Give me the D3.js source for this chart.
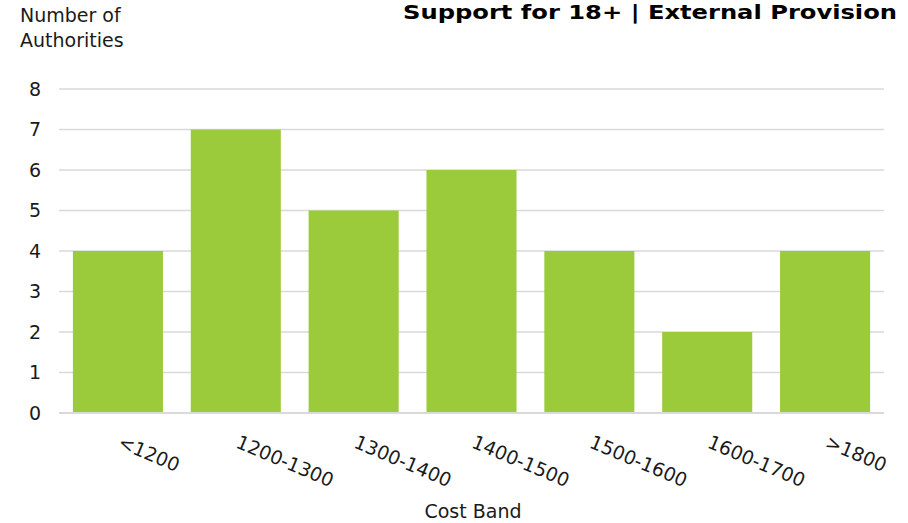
<!DOCTYPE html>
<html><head><meta charset="utf-8">
<script src="https://cdn.jsdelivr.net/npm/d3@7"></script>
<style>body{margin:0;background:#fff}svg{display:block;font-family:"DejaVu Sans",Verdana,sans-serif}</style>
</head><body><svg id="c" width="908" height="523"></svg>
<script>
const categories = ["<1200","1200-1300","1300-1400","1400-1500","1500-1600","1600-1700",">1800"];
const values = [4,7,5,6,4,2,4];
const yTicks = [0,1,2,3,4,5,6,7,8];
const title = "Support for 18+ | External Provision";
const yTitle = ["Number of","Authorities"];
const xTitle = "Cost Band";

const svg = d3.select("#c");
const L=59, R=884, T=89, B=413;
const FS=19;
const x = d3.scaleBand().domain(categories).range([L,R]).paddingInner(0.236).paddingOuter(0.118);
const y = d3.scaleLinear().domain([0,8]).range([B,T]);

// grid
svg.append("g").selectAll("line").data(yTicks).join("line")
  .attr("x1",L).attr("x2",R).attr("y1",d=>y(d)).attr("y2",d=>y(d))
  .attr("stroke","#d9d9d9").attr("stroke-width",1.5);
// y labels
svg.append("g").selectAll("text").data(yTicks).join("text")
  .attr("x",41).attr("y",d=>y(d)).attr("dy","0.36em").attr("text-anchor","end")
  .attr("font-size",FS).attr("fill","#1a1a1a").text(d=>d);
// bars
svg.append("g").selectAll("rect").data(values).join("rect")
  .attr("x",(d,i)=>x(categories[i])).attr("width",x.bandwidth())
  .attr("y",d=>y(d)).attr("height",d=>B-y(d)).attr("fill","#9bcb3b");
// baseline
svg.append("line").attr("x1",L).attr("x2",R).attr("y1",B).attr("y2",B).attr("stroke","#d9d9d9").attr("stroke-width",2);
// x labels
svg.append("g").selectAll("text").data(categories).join("text")
  .attr("transform",d=>`translate(${x(d)+x.bandwidth()/2-1},${447}) rotate(23)`)
  .attr("font-size",FS).attr("fill","#1a1a1a").text(d=>d);
// titles
svg.append("text").attr("x",897).attr("y",19).attr("text-anchor","end")
  .attr("font-size",19).attr("font-weight","bold").attr("fill","#000")
  .attr("textLength",494).attr("lengthAdjust","spacingAndGlyphs").text(title);
svg.append("text").attr("font-size",FS).attr("fill","#1a1a1a")
  .selectAll("tspan").data(yTitle).join("tspan").attr("x",20).attr("y",(d,i)=>22+i*25).text(d=>d);
svg.append("text").attr("x",473).attr("y",518).attr("text-anchor","middle")
  .attr("font-size",FS).attr("fill","#1a1a1a").text(xTitle);
</script></body></html>
